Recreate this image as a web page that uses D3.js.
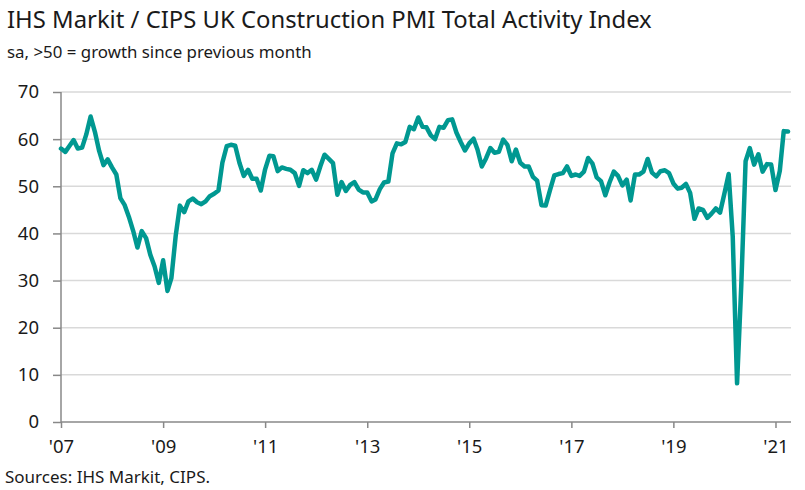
<!DOCTYPE html>
<html>
<head>
<meta charset="utf-8">
<script src="https://cdn.jsdelivr.net/npm/d3@7"></script>
<style>
  body { margin: 0; background: #fff; }
  svg { display: block; }
  text { font-family: "Noto Sans", "Open Sans", sans-serif; fill: #1a1a1a; }
</style>
</head>
<body>
<div id="chart"></div>
<script>
// monthly index values, Jan 2007 .. Apr 2021
const y2007 = [58.0, 57.3, 58.5, 59.8, 58.0, 58.2, 61.0, 64.8, 61.5, 57.5, 54.5, 55.7];
const y2008 = [54.0, 52.5, 47.5, 46.0, 43.5, 40.5, 37.0, 40.5, 39.0, 35.5, 33.0, 29.5];
const y2009 = [34.3, 27.8, 30.5, 39.5, 45.9, 44.5, 46.8, 47.4, 46.6, 46.2, 46.8, 47.9];
const y2010 = [48.4, 49.1, 55.0, 58.5, 58.8, 58.6, 55.0, 52.2, 53.5, 51.6, 51.6, 49.1];
const y2011 = [53.6, 56.5, 56.4, 53.2, 54.0, 53.7, 53.5, 52.8, 50.1, 53.4, 52.8, 53.5];
const y2012 = [51.4, 54.3, 56.7, 55.8, 54.9, 48.2, 50.9, 49.0, 50.3, 50.9, 49.3, 48.7];
const y2013 = [48.7, 46.8, 47.2, 49.4, 50.8, 51.0, 57.0, 59.1, 58.9, 59.4, 62.6, 62.1];
const y2014 = [64.6, 62.6, 62.5, 60.8, 60.0, 62.6, 62.4, 64.0, 64.2, 61.4, 59.4, 57.6];
const y2015 = [59.1, 60.1, 57.8, 54.2, 55.9, 58.1, 57.1, 57.3, 59.9, 58.8, 55.3, 57.8];
const y2016 = [55.0, 54.2, 54.2, 52.0, 51.2, 46.0, 45.9, 49.2, 52.3, 52.6, 52.8, 54.2];
const y2017 = [52.2, 52.5, 52.2, 53.1, 56.0, 54.8, 51.9, 51.1, 48.1, 50.8, 53.1, 52.2];
const y2018 = [50.2, 51.4, 47.0, 52.5, 52.5, 53.1, 55.8, 52.9, 52.1, 53.2, 53.4, 52.8];
const y2019 = [50.6, 49.5, 49.7, 50.5, 48.6, 43.1, 45.3, 45.0, 43.3, 44.2, 45.3, 44.4];
const y2020 = [48.4, 52.6, 39.3, 8.2, 28.9, 55.3, 58.1, 54.6, 56.8, 53.1, 54.7, 54.6];
const y2021 = [49.2, 53.3, 61.7, 61.6];

const yTicks = [0, 10, 20, 30, 40, 50, 60, 70];
const xTickYears = [2007, 2009, 2011, 2013, 2015, 2017, 2019, 2021];

const values = [].concat(y2007, y2008, y2009, y2010, y2011, y2012, y2013,
    y2014, y2015, y2016, y2017, y2018, y2019, y2020, y2021);
const data = values.map((v, i) => ({date: new Date(2007, i, 1), value: v}));

const W = 805, H = 490;
const margin = {left: 61, right: 14, top: 92, bottom: 68};

const svg = d3.select('#chart').append('svg')
    .attr('width', W)
    .attr('height', H);

// shrink/grow a text's font size until it spans the wanted width
function fitText(sel, width) {
    const node = sel.node();
    const size = parseFloat(sel.attr('font-size'));
    const len = node.getComputedTextLength();
    sel.attr('font-size', (size * width / len).toFixed(2));
}

svg.append('text')
    .attr('x', 7).attr('y', 28)
    .attr('font-size', 21)
    .text('IHS Markit / CIPS UK Construction PMI Total Activity Index')
    .call(fitText, 645);

svg.append('text')
    .attr('x', 7).attr('y', 58)
    .attr('font-size', 16)
    .text('sa, >50 = growth since previous month')
    .call(fitText, 305);

svg.append('text')
    .attr('x', 5).attr('y', 483)
    .attr('font-size', 16)
    .text('Sources: IHS Markit, CIPS.')
    .call(fitText, 205);

const x = d3.scaleTime()
    .domain([new Date(2007, 0, 1), new Date(2021, 3, 22)])
    .range([margin.left, W - margin.right]);

const y = d3.scaleLinear()
    .domain([0, 70])
    .range([H - margin.bottom, margin.top]);

// gridlines
svg.append('g')
    .selectAll('line')
    .data(yTicks.filter(d => d > 0))
    .join('line')
    .attr('x1', margin.left)
    .attr('x2', W - margin.right)
    .attr('y1', d => y(d))
    .attr('y2', d => y(d))
    .attr('stroke', '#d9d9d9')
    .attr('stroke-width', 1.5);

const yAxis = svg.append('g')
    .attr('transform', `translate(${margin.left},0)`)
    .call(d3.axisLeft(y).tickValues(yTicks).tickSize(8).tickPadding(14));

const xAxis = svg.append('g')
    .attr('transform', `translate(0,${H - margin.bottom})`)
    .call(d3.axisBottom(x)
        .tickValues(xTickYears.map(yr => new Date(yr, 0, 1)))
        .tickFormat(d => "'" + d3.timeFormat('%y')(d))
        .tickSize(6)
        .tickPadding(12));

[yAxis, xAxis].forEach(g => {
    g.select('.domain').attr('stroke', '#888').attr('stroke-width', 1.5);
    g.selectAll('.tick line').attr('stroke', '#888').attr('stroke-width', 1.5);
    g.selectAll('.tick text')
        .attr('font-size', 18.5)
        .attr('font-family', '"Noto Sans", sans-serif')
        .attr('fill', '#1a1a1a');
});
xAxis.select('.domain').attr('d', `M${margin.left},0H${W - margin.right}`);
yAxis.select('.domain').attr('d', `M0,${y(0)}V${y(70)}`);

const line = d3.line()
    .x(d => x(d.date))
    .y(d => y(d.value));

svg.append('path')
    .datum(data)
    .attr('fill', 'none')
    .attr('stroke', '#009891')
    .attr('stroke-width', 4.5)
    .attr('stroke-linejoin', 'round')
    .attr('stroke-linecap', 'round')
    .attr('d', line);
</script>
</body>
</html>
